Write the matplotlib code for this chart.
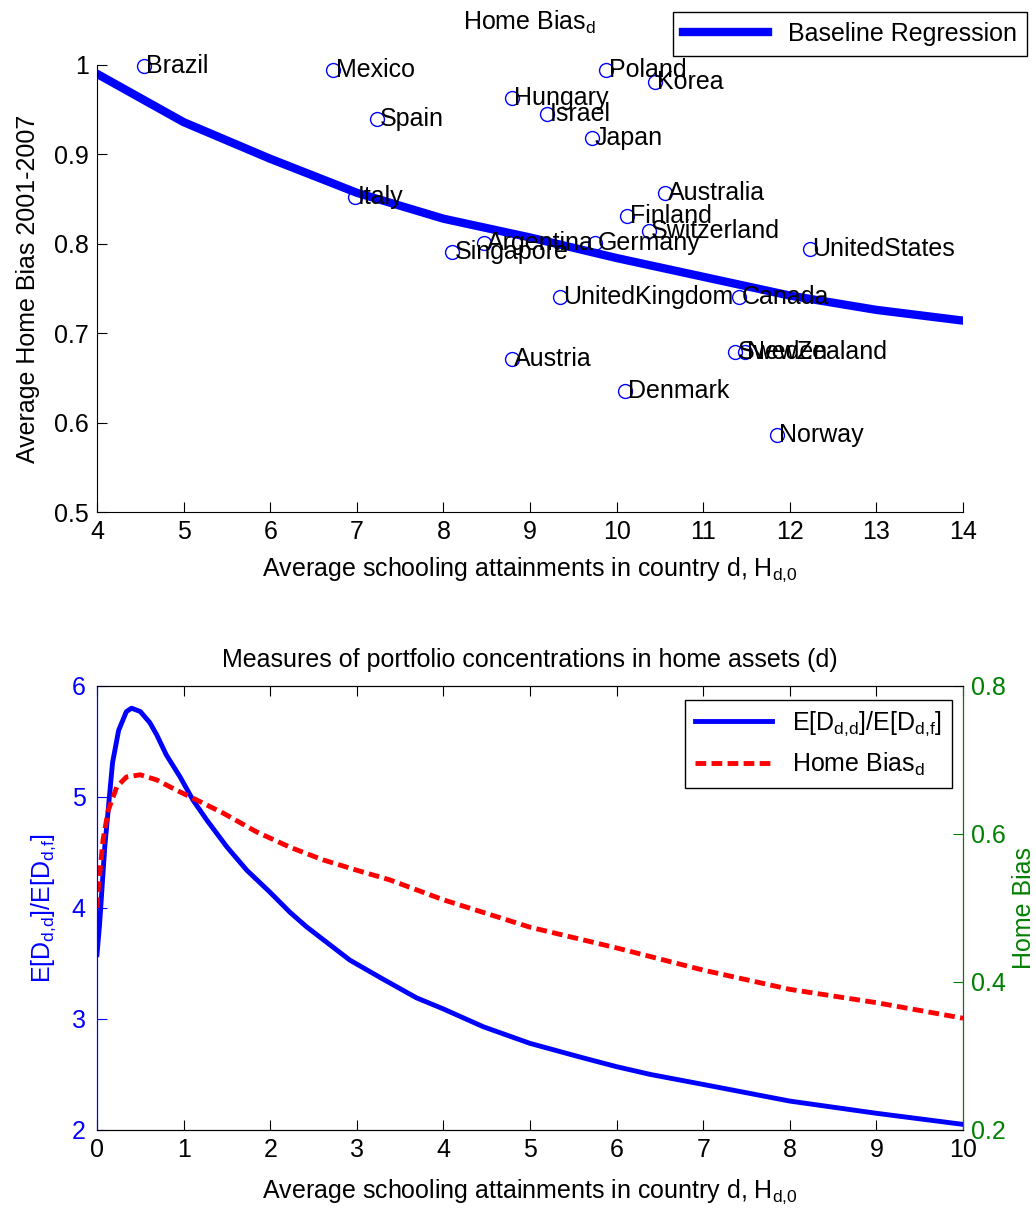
import numpy as np
import matplotlib
matplotlib.use("Agg")
import matplotlib.pyplot as plt

plt.rcParams['font.family'] = ['Liberation Sans', 'DejaVu Sans']
plt.rcParams['mathtext.fontset'] = 'custom'
plt.rcParams['mathtext.rm'] = 'Liberation Sans'
plt.rcParams['mathtext.it'] = 'Liberation Sans:italic'
plt.rcParams['font.size'] = 18

# top panel: countries (schooling, average home bias)
countries = ["Brazil", "Mexico", "Poland", "Korea", "Hungary", "Israel", "Spain",
             "Japan", "Australia", "Italy", "Finland", "Switzerland", "UnitedStates",
             "Argentina", "Germany", "Singapore", "UnitedKingdom", "Canada",
             "Austria", "Sweden", "NewZealand", "Denmark", "Norway"]
schooling = [4.54, 6.73, 9.88, 10.44, 8.79, 9.20, 7.23,
             9.72, 10.56, 6.98, 10.12, 10.37, 12.23,
             8.47, 9.75, 8.10, 9.35, 11.41,
             8.79, 11.37, 11.48, 10.10, 11.85]
home_bias = [0.999, 0.994, 0.994, 0.981, 0.963, 0.945, 0.940,
             0.918, 0.857, 0.852, 0.831, 0.814, 0.794,
             0.801, 0.801, 0.791, 0.740, 0.740,
             0.671, 0.679, 0.679, 0.635, 0.586]

reg_x = [4, 5, 6, 7, 8, 9, 10, 11, 12, 13, 14]
reg_y = [0.990, 0.936, 0.895, 0.857, 0.828, 0.807, 0.784, 0.763, 0.742, 0.726, 0.714]

# bottom panel: model curves
ratio_x = [0.0, 0.03, 0.09, 0.18, 0.25, 0.34, 0.40, 0.50, 0.61, 0.69, 0.80, 0.96,
           1.11, 1.27, 1.50, 1.73, 2.00, 2.23, 2.42, 2.92, 3.30, 3.69, 4.00, 4.46,
           5.00, 5.61, 6.00, 6.39, 7.00, 8.00, 9.00, 10.0]
ratio_y = [3.58, 3.85, 4.55, 5.31, 5.60, 5.77, 5.80, 5.77, 5.67, 5.56, 5.38, 5.18,
           4.97, 4.79, 4.55, 4.34, 4.14, 3.96, 3.83, 3.53, 3.36, 3.19, 3.09, 2.93,
           2.78, 2.65, 2.57, 2.50, 2.41, 2.26, 2.15, 2.05]
hb_x = [0.0, 0.01, 0.07, 0.13, 0.23, 0.34, 0.50, 0.69, 0.92, 1.15, 1.46, 1.84,
        2.23, 2.61, 3.00, 3.38, 4.00, 5.00, 6.00, 7.00, 8.00, 9.00, 10.0]
hb_y = [0.50, 0.52, 0.592, 0.632, 0.664, 0.677, 0.680, 0.673, 0.659, 0.646, 0.628, 0.603,
        0.582, 0.565, 0.551, 0.538, 0.511, 0.474, 0.446, 0.416, 0.390, 0.372, 0.351]

xlab = r'Average schooling attainments in country d, H$_\mathrm{d{,}0}$'

fig = plt.figure(figsize=(10.36, 12.15), dpi=100)

# ---- top panel
ax1 = fig.add_axes([0.0936, 0.5786, 0.836, 0.368])
line, = ax1.plot(reg_x, reg_y, color='blue', lw=6, label='Baseline Regression')
ax1.plot(schooling, home_bias, 'o', mfc='none', mec='blue', ms=10, mew=1, clip_on=False)
for name, xv, yv in zip(countries, schooling, home_bias):
    ax1.text(xv + 0.03, yv, name, ha='left', va='center', fontsize=18)
ax1.set_xlim(4, 14)
ax1.set_ylim(0.5, 1.0)
ax1.set_xticks(range(4, 15))
ax1.set_yticks([0.5, 0.6, 0.7, 0.8, 0.9, 1.0])
ax1.set_yticklabels(['0.5', '0.6', '0.7', '0.8', '0.9', '1'])
ax1.spines['top'].set_visible(False)
ax1.spines['right'].set_visible(False)
ax1.tick_params(direction='in', length=7, pad=6)
ax1.set_title(r'Home Bias$_\mathrm{d}$', fontsize=18, pad=25)
ax1.set_xlabel(xlab, labelpad=8)
ax1.set_ylabel('Average Home Bias 2001-2007', labelpad=10)
fig.legend(handles=[line], loc='upper right', bbox_to_anchor=(0.991, 0.990),
           bbox_transform=fig.transFigure, borderaxespad=0, fancybox=False,
           edgecolor='black', framealpha=1, handlelength=3.4, fontsize=18)

# ---- bottom panel
ax2 = fig.add_axes([0.0936, 0.0700, 0.836, 0.3654])
l1, = ax2.plot(ratio_x, ratio_y, color='blue', lw=3.5,
               label=r'E[D$_\mathrm{d{,}d}$]/E[D$_\mathrm{d{,}f}$]')
ax2.set_xlim(0, 10)
ax2.set_ylim(2, 6)
ax2.set_xticks(range(0, 11))
ax2.set_yticks([2, 3, 4, 5, 6])
ax2.tick_params(axis='x', direction='in', length=7, top=True, pad=6)
ax2.tick_params(axis='y', direction='in', length=7, colors='blue', right=True, pad=8)
ax2.spines['left'].set_color('blue')
ax2.set_xlabel(xlab, labelpad=11)
ax2.set_ylabel(r'E[D$_\mathrm{d{,}d}$]/E[D$_\mathrm{d{,}f}$]', color='blue', labelpad=10)
ax2.set_title('Measures of portfolio concentrations in home assets (d)', fontsize=18, pad=14)

ax3 = ax2.twinx()
l2, = ax3.plot(hb_x, hb_y, color='red', lw=3.5, linestyle=(0, (2.2, 1.1)),
               label=r'Home Bias$_\mathrm{d}$')
ax3.set_ylim(0.2, 0.8)
ax3.set_yticks([0.2, 0.4, 0.6, 0.8])
ax3.tick_params(axis='y', direction='in', length=7, colors='green', pad=6)
ax3.spines['right'].set_color('green')
ax3.spines['left'].set_color('blue')
ax3.set_ylabel('Home Bias', color='green', labelpad=4)

ax3.legend(handles=[l1, l2], loc='upper right', bbox_to_anchor=(0.919, 0.424),
           bbox_transform=fig.transFigure, borderaxespad=0, fancybox=False,
           edgecolor='black', framealpha=1, handlelength=3.1, fontsize=18)

fig.savefig('out.png', dpi=100)
